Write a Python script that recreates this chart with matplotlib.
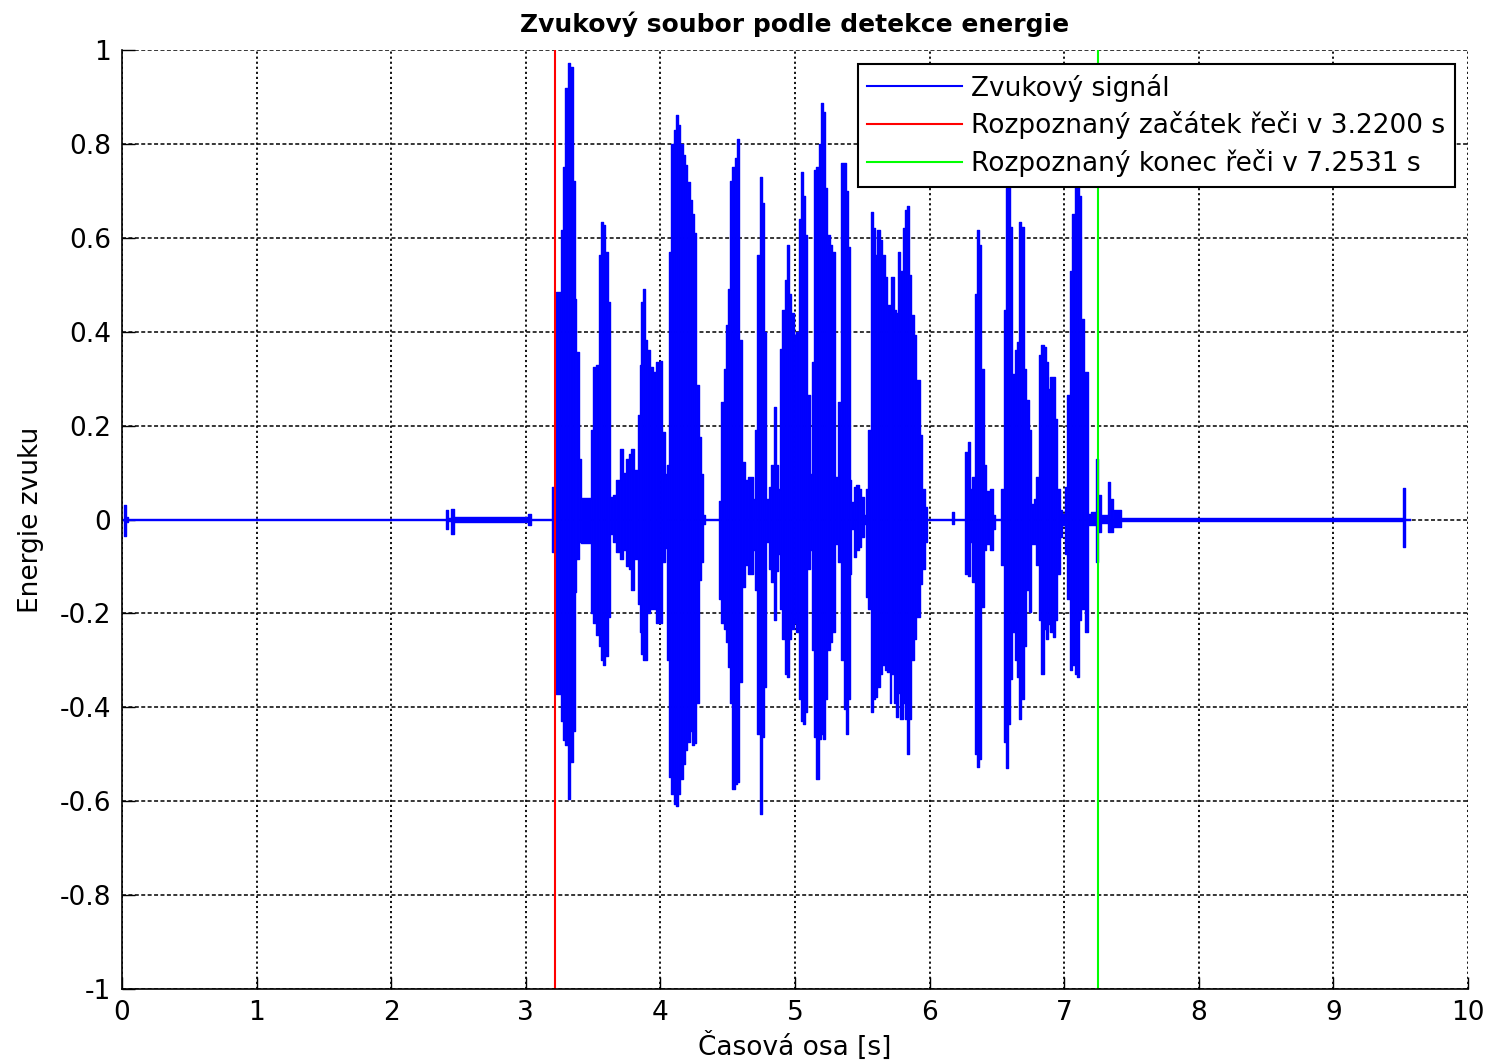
import numpy as np
import matplotlib
matplotlib.use("Agg")
import matplotlib.pyplot as plt

plt.rcParams['font.family'] = ['DejaVu Sans']

# Envelope of the sound signal (segment start time [s], upper, lower)
env_t = [0.000, 0.015, 0.030, 0.045, 2.405, 2.420, 2.445, 2.465, 3.020, 3.040,
         3.195, 3.227, 3.259, 3.276, 3.294, 3.313, 3.331, 3.351, 3.363, 3.375,
         3.393, 3.413, 3.482, 3.499, 3.524, 3.541, 3.561, 3.576, 3.591, 3.611,
         3.628, 3.648, 3.673, 3.697, 3.722, 3.747, 3.764, 3.784, 3.804, 3.834,
         3.846, 3.858, 3.871, 3.888, 3.903, 3.920, 3.945, 3.965, 3.995, 4.014,
         4.032, 4.047, 4.064, 4.081, 4.099, 4.113, 4.131, 4.148, 4.165, 4.180,
         4.198, 4.217, 4.235, 4.250, 4.267, 4.284, 4.304, 4.316, 4.329, 4.433,
         4.453, 4.470, 4.485, 4.502, 4.520, 4.534, 4.552, 4.569, 4.584, 4.609,
         4.626, 4.651, 4.688, 4.705, 4.720, 4.737, 4.755, 4.770, 4.787, 4.804,
         4.824, 4.842, 4.856, 4.874, 4.891, 4.906, 4.923, 4.941, 4.955, 4.973,
         4.990, 5.005, 5.027, 5.047, 5.062, 5.077, 5.092, 5.109, 5.126, 5.141,
         5.159, 5.176, 5.191, 5.208, 5.225, 5.240, 5.258, 5.275, 5.295, 5.319,
         5.344, 5.364, 5.381, 5.394, 5.406, 5.419, 5.436, 5.456, 5.473, 5.493,
         5.510, 5.525, 5.542, 5.562, 5.580, 5.592, 5.609, 5.629, 5.646, 5.666,
         5.684, 5.703, 5.716, 5.733, 5.748, 5.765, 5.783, 5.800, 5.815, 5.832,
         5.847, 5.864, 5.882, 5.901, 5.926, 5.944, 5.963, 5.983, 6.170, 6.184,
         6.265, 6.285, 6.303, 6.317, 6.335, 6.352, 6.367, 6.384, 6.402, 6.422,
         6.446, 6.471, 6.484, 6.533, 6.550, 6.565, 6.582, 6.600, 6.615, 6.632,
         6.649, 6.664, 6.682, 6.699, 6.719, 6.736, 6.756, 6.776, 6.793, 6.810,
         6.830, 6.850, 6.867, 6.880, 6.897, 6.917, 6.934, 6.949, 6.966, 6.984,
         7.003, 7.023, 7.041, 7.058, 7.078, 7.095, 7.110, 7.127, 7.145, 7.157,
         7.177, 7.197, 7.239, 7.251, 7.256, 7.276, 7.325, 7.343, 7.362, 7.424,
         9.520, 9.535]
env_hi = [0.002, 0.031, 0.005, 0.002, 0.020, 0.004, 0.022, 0.006, 0.012, 0.002,
          0.070, 0.484, 0.617, 0.750, 0.920, 0.973, 0.963, 0.720, 0.470, 0.356,
          0.128, 0.045, 0.190, 0.325, 0.330, 0.564, 0.633, 0.628, 0.570, 0.463,
          0.048, 0.053, 0.085, 0.150, 0.100, 0.128, 0.140, 0.150, 0.106, 0.223,
          0.330, 0.463, 0.490, 0.383, 0.360, 0.325, 0.314, 0.335, 0.338, 0.186,
          0.096, 0.117, 0.570, 0.800, 0.830, 0.862, 0.840, 0.800, 0.777, 0.755,
          0.718, 0.680, 0.650, 0.610, 0.287, 0.175, 0.096, 0.010, 0.002, 0.040,
          0.250, 0.320, 0.415, 0.490, 0.720, 0.750, 0.770, 0.810, 0.383, 0.122,
          0.085, 0.090, 0.043, 0.190, 0.564, 0.730, 0.675, 0.400, 0.043, 0.070,
          0.117, 0.240, 0.117, 0.064, 0.364, 0.447, 0.510, 0.585, 0.480, 0.440,
          0.394, 0.400, 0.640, 0.740, 0.690, 0.606, 0.266, 0.096, 0.335, 0.745,
          0.750, 0.800, 0.888, 0.867, 0.707, 0.606, 0.585, 0.570, 0.090, 0.250,
          0.760, 0.760, 0.700, 0.580, 0.085, 0.037, 0.070, 0.074, 0.064, 0.048,
          0.010, 0.064, 0.190, 0.654, 0.620, 0.564, 0.617, 0.596, 0.564, 0.516,
          0.457, 0.440, 0.516, 0.447, 0.440, 0.570, 0.530, 0.620, 0.660, 0.668,
          0.520, 0.436, 0.394, 0.298, 0.180, 0.064, 0.027, 0.002, 0.015, 0.002,
          0.144, 0.165, 0.064, 0.090, 0.480, 0.617, 0.585, 0.320, 0.117, 0.060,
          0.064, 0.010, 0.002, 0.064, 0.447, 0.707, 0.713, 0.622, 0.310, 0.360,
          0.378, 0.633, 0.622, 0.320, 0.255, 0.190, 0.032, 0.043, 0.090, 0.350,
          0.372, 0.367, 0.335, 0.277, 0.303, 0.303, 0.213, 0.064, 0.021, 0.011,
          0.070, 0.266, 0.530, 0.650, 0.888, 0.862, 0.690, 0.426, 0.240, 0.314,
          0.011, 0.016, 0.128, 0.016, 0.053, 0.010, 0.080, 0.043, 0.020, 0.003,
          0.067, 0.002]
env_lo = [-0.002, -0.035, -0.005, -0.002, -0.020, -0.004, -0.030, -0.006, -0.012, -0.002,
          -0.070, -0.372, -0.430, -0.470, -0.480, -0.596, -0.516, -0.450, -0.154, -0.085,
          -0.048, -0.050, -0.200, -0.220, -0.245, -0.270, -0.300, -0.310, -0.290, -0.207,
          -0.030, -0.048, -0.070, -0.085, -0.064, -0.100, -0.106, -0.150, -0.085, -0.180,
          -0.240, -0.287, -0.300, -0.300, -0.200, -0.190, -0.190, -0.220, -0.220, -0.090,
          -0.060, -0.300, -0.548, -0.585, -0.606, -0.610, -0.585, -0.553, -0.520, -0.490,
          -0.473, -0.450, -0.480, -0.475, -0.390, -0.128, -0.090, -0.010, -0.002, -0.170,
          -0.220, -0.234, -0.260, -0.314, -0.390, -0.575, -0.564, -0.560, -0.346, -0.144,
          -0.096, -0.117, -0.064, -0.150, -0.457, -0.628, -0.463, -0.356, -0.048, -0.106,
          -0.133, -0.213, -0.110, -0.074, -0.190, -0.255, -0.330, -0.335, -0.255, -0.234,
          -0.220, -0.240, -0.383, -0.430, -0.436, -0.410, -0.106, -0.064, -0.277, -0.463,
          -0.553, -0.468, -0.457, -0.468, -0.383, -0.277, -0.260, -0.240, -0.053, -0.090,
          -0.300, -0.404, -0.457, -0.383, -0.117, -0.021, -0.080, -0.064, -0.058, -0.037,
          -0.010, -0.165, -0.190, -0.410, -0.383, -0.378, -0.356, -0.330, -0.310, -0.320,
          -0.325, -0.390, -0.330, -0.390, -0.420, -0.370, -0.425, -0.390, -0.425, -0.500,
          -0.425, -0.300, -0.255, -0.207, -0.138, -0.106, -0.048, -0.002, -0.010, -0.002,
          -0.117, -0.120, -0.048, -0.133, -0.500, -0.527, -0.510, -0.186, -0.064, -0.053,
          -0.064, -0.020, -0.002, -0.096, -0.473, -0.530, -0.436, -0.340, -0.240, -0.300,
          -0.335, -0.425, -0.383, -0.270, -0.150, -0.197, -0.053, -0.053, -0.096, -0.213,
          -0.330, -0.234, -0.255, -0.223, -0.240, -0.250, -0.213, -0.117, -0.037, -0.011,
          -0.074, -0.170, -0.320, -0.310, -0.330, -0.335, -0.213, -0.190, -0.170, -0.240,
          -0.011, -0.011, -0.090, -0.011, -0.027, -0.008, -0.027, -0.027, -0.015, -0.003,
          -0.058, -0.002]
signal_end = 9.57

speech_start = 3.2200
speech_end = 7.2531

x_ticks = list(range(0, 11))
y_ticks = [-1, -0.8, -0.6, -0.4, -0.2, 0, 0.2, 0.4, 0.6, 0.8, 1]
y_tick_labels = ['-1', '-0.8', '-0.6', '-0.4', '-0.2', '0', '0.2', '0.4', '0.6', '0.8', '1']

title = 'Zvukový soubor podle detekce energie'
xlabel = 'Časová osa [s]'
ylabel = 'Energie zvuku'
labels = ['Zvukový signál',
          'Rozpoznaný začátek řeči v 3.2200 s',
          'Rozpoznaný konec řeči v 7.2531 s']

FS = 19

fig = plt.figure(figsize=(14.9, 10.63), dpi=100)
ax = fig.add_axes([122/1490, 1 - 989/1063, (1468-122)/1490, (989-50)/1063])

# envelope drawn as adjoining rectangles (one per read segment)
t_arr = np.asarray(env_t, dtype=float)
hi_arr = np.asarray(env_hi, dtype=float)
lo_arr = np.asarray(env_lo, dtype=float)
widths = np.diff(np.append(t_arr, signal_end))
ax.bar(t_arr, hi_arr - lo_arr, bottom=lo_arr, width=widths, align='edge',
       color='#0000ff', edgecolor='#0000ff', linewidth=0.6, zorder=3)

# outline (also serves as legend handle)
tx = np.append(t_arr, signal_end)
xs = np.repeat(tx, 2)[1:-1]
sig_line, = ax.plot(xs, np.repeat(hi_arr, 2), color='#0000ff', lw=1.0, zorder=3)
ax.plot(xs, np.repeat(lo_arr, 2), color='#0000ff', lw=1.0, zorder=3)

l_start = ax.axvline(speech_start, color='#ff0000', lw=1.5, zorder=4)
l_end = ax.axvline(speech_end, color='#00ff00', lw=1.5, zorder=4)

ax.set_xlim(0, 10)
ax.set_ylim(-1, 1)
ax.set_xticks(x_ticks)
ax.set_yticks(y_ticks)
ax.set_yticklabels(y_tick_labels)
ax.tick_params(direction='in', length=9, width=1, labelsize=FS,
               top=False, right=False)
ax.tick_params(axis='x', pad=8)
ax.tick_params(axis='y', pad=8)
ax.xaxis.grid(True, color='black', linestyle=(0, (1.2, 1.6)), linewidth=1.3)
ax.yaxis.grid(True, color='black', linestyle=(0, (2.6, 1.6)), linewidth=1.1)
ax.set_axisbelow(True)
for s in ['top', 'right']:
    ax.spines[s].set_visible(False)
for s in ['left', 'bottom']:
    ax.spines[s].set_linewidth(1.2)
    ax.spines[s].set_zorder(5)

ax.set_title(title, fontsize=18, fontweight='bold', pad=13)
ax.set_xlabel(xlabel, fontsize=FS, labelpad=4)
ax.set_ylabel(ylabel, fontsize=FS, labelpad=11)

leg = ax.legend([sig_line, l_start, l_end], labels, loc='upper right',
                bbox_to_anchor=((1455-122)/1346, (989-64)/939), borderaxespad=0,
                fontsize=FS, fancybox=False, framealpha=1, edgecolor='black',
                handlelength=3.6, handletextpad=0.35, labelspacing=0.37,
                borderpad=0.36)
leg.get_frame().set_linewidth(1.5)
for h in leg.get_lines():
    h.set_linewidth(1.5)
leg.set_zorder(10)

fig.savefig('out.png', dpi=100)
